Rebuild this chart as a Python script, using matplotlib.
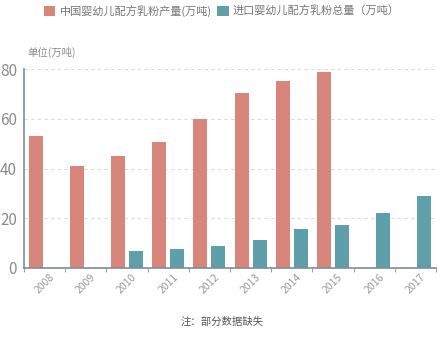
import matplotlib.pyplot as plt
import numpy as np

plt.rcParams['font.family'] = ['Noto Sans CJK SC', 'DejaVu Sans']

# 数据（万吨），缺失年份为 nan
years = ['2008', '2009', '2010', '2011', '2012', '2013', '2014', '2015', '2016', '2017']
production = [53, 41, 45, 50.5, 60, 70.4, 75.4, 79, np.nan, np.nan]
imports = [np.nan, np.nan, 6.8, 7.5, 9, 11.4, 15.5, 17.4, 21.9, 28.9]

red = '#d8867b'
teal = '#5f9fa9'
axis_c = '#7d8d9b'
text_c = '#8c8c8c'

fig = plt.figure(figsize=(4.44, 3.37), dpi=100)
ax = fig.add_axes([0.054, 0.205, 0.928, 0.59])

x = np.arange(len(years))
w = 0.34
ax.bar(x - 0.22, production, w, color=red, label='中国婴幼儿配方乳粉产量(万吨)')
ax.bar(x + 0.22, imports, w, color=teal, label='进口婴幼儿配方乳粉总量（万吨）')

ax.set_xlim(-0.5, len(years) - 0.5)
ax.set_ylim(0, 80)
ax.set_yticks([0, 20, 40, 60, 80])
ax.yaxis.grid(True, linestyle=(0, (3, 3)), color='#dcdcdc', linewidth=0.8)
ax.set_axisbelow(True)

for s in ['top', 'right']:
    ax.spines[s].set_visible(False)
for s in ['left', 'bottom']:
    ax.spines[s].set_color(axis_c)
    ax.spines[s].set_linewidth(1.2)

ax.set_xticks(x)
ax.set_xticklabels(years, rotation=45, fontsize=7.5, color='#9a9a9a')
ax.set_xticks(np.arange(-0.5, len(years)), minor=True)
ax.tick_params(axis='x', which='major', length=0, pad=3)
ax.tick_params(axis='x', which='minor', length=3, color=axis_c)
ax.tick_params(axis='y', length=0, labelsize=11, labelcolor=text_c, pad=5)

fig.text(0.062, 0.835, '单位(万吨)', fontsize=7.5, color=text_c)
fig.text(0.5, 0.035, '注：部分数据缺失', fontsize=7.5, color='#555555', ha='center')

fig.legend(loc='upper center', bbox_to_anchor=(0.5, 1.015), ncol=2, frameon=False,
           fontsize=8, handlelength=1.0, handleheight=1.0, handletextpad=0.4,
           columnspacing=0.5, labelcolor='#777777')

fig.savefig('out.png', dpi=100)
